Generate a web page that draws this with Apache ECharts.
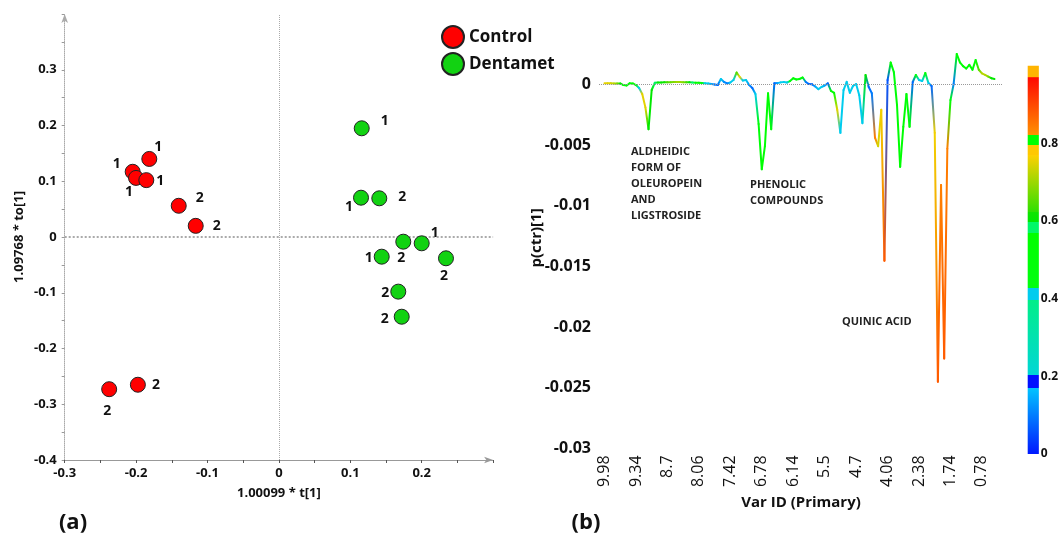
<!DOCTYPE html>
<html>
<head>
<meta charset="utf-8">
<title>Score plot and loadings</title>
<script src="https://cdn.jsdelivr.net/npm/echarts@6/dist/echarts.min.js"></script>
<style>
  html, body { margin: 0; padding: 0; background: #fff; }
  #chart { width: 1061px; height: 538px; }
</style>
</head>
<body>
<div id="chart"></div>
<script>
// ==================== 数据 ====================

// (a) score plot, t[1] vs to[1]
const controlX = [-0.1815, -0.2048, -0.2001, -0.1857, -0.1403, -0.1165, -0.2377, -0.1975];
const controlY = [0.140, 0.117, 0.106, 0.102, 0.056, 0.020, -0.273, -0.265];
const controlTag = ['1', '1', '1', '1', '2', '2', '2', '2'];

const dentametX = [0.116, 0.115, 0.1406, 0.1742, 0.200, 0.144, 0.234, 0.1672, 0.172];
const dentametY = [0.195, 0.0705, 0.0694, -0.0084, -0.0113, -0.0353, -0.0382, -0.098, -0.143];
const dentametTag = ['1', '1', '2', '2', '1', '1', '2', '2', '2'];

// where each number sits next to its point (px)
const controlTagOffset = [[9, -12], [-16, -8], [-7, 14], [14, 1], [21, -8], [21, 0], [-2, 22], [18, 0]];
const dentametTagOffset = [[23, -7], [-12, 9], [23, -1], [-2, 16], [13, -10], [-13, 1], [-2, 18], [-13, 1], [-17, 2]];

// (b) loadings p(ctr)[1] per variable, coloured by p(corr)
const varIdLabels = ['9.98', '9.34', '8.7', '8.06', '7.42', '6.78', '6.14', '5.5', '4.7', '4.06', '2.38', '1.74', '0.78'];

const loadings = [
  0.00008, 0.00008, 0.00008, 0.00007, 0.00007, 0.00007, -0.00006, -0.0001, 0.00008, 0.00007,
  -0.00006, -0.0003, -0.0008, -0.0019, -0.0037, -0.00047, 0.00013, 0.00015, 0.00015, 0.00016,
  0.00016, 0.00017, 0.00019, 0.00019, 0.00019, 0.00017, 0.00016, 0.00016, 0.00015, 0.00013,
  0.00012, 0.0001, 0.00009, 0.00007, 0.00002, -0.00002, -0.00006, 0.00044, 0.00019, 0.00007,
  0.00015, 0.00035, 0.00097, 0.0006, 0.00031, 0.00035, -0.00006, -0.0003, -0.0008, -0.00327,
  -0.0070, -0.0051, -0.00074, -0.0037, 0.00008, 0.0001, 0.00016, 0.00019, 0.00015, 0.00027,
  0.0005, 0.0004, 0.00044, 0.00056, 0.00019, 0.00002, 0, -0.00018, -0.0004, -0.00022,
  -0.0001, 0.00008, -0.00055, -0.0007, -0.0021, -0.004, -0.00047, 0.0002, -0.0007, -0.00014,
  0.00002, -0.0009, -0.0032, 0.00077, -0.00022, -0.00074, -0.0044, -0.0051, -0.0021, -0.01453,
  0.00035, 0.0018, 0.001, -0.0017, -0.0068, -0.0035, -0.0008, -0.0035, 0.00019, 0.00077,
  0.00035, 0.00027, 0.00093, 0.0001, -0.00014, -0.004, -0.0245, -0.0083, -0.0226, -0.0053,
  -0.0013, 0.00002, 0.0025, 0.0018, 0.0015, 0.0013, 0.0016, 0.0012, 0.002, 0.0012,
  0.0009, 0.00077, 0.00064, 0.0005, 0.00044
];

const corrValues = [
  0.75, 0.75, 0.74, 0.72, 0.68, 0.6, 0.52, 0.5, 0.55, 0.55,
  0.45, 0.4, 0.75, 0.75, 0.6, 0.6, 0.58, 0.6, 0.6, 0.62,
  0.64, 0.66, 0.68, 0.7, 0.7, 0.68, 0.64, 0.6, 0.58, 0.56,
  0.55, 0.5, 0.4, 0.4, 0.14, 0.1, 0.08, 0.4, 0.12, 0.1,
  0.4, 0.4, 0.65, 0.76, 0.4, 0.4, 0.12, 0.08, 0.4, 0.5,
  0.55, 0.55, 0.55, 0.5, 0.08, 0.14, 0.4, 0.4, 0.4, 0.45,
  0.55, 0.52, 0.5, 0.55, 0.1, 0.08, 0.08, 0.14, 0.4, 0.4,
  0.14, 0.08, 0.55, 0.55, 0.75, 0.4, 0.4, 0.4, 0.4, 0.4,
  0.4, 0.4, 0.4, 0.6, 0.08, 0.1, 0.84, 0.74, 0.76, 0.88,
  0.06, 0.55, 0.45, 0.55, 0.55, 0.55, 0.5, 0.55, 0.08, 0.45,
  0.4, 0.4, 0.55, 0.4, 0.08, 0.76, 0.88, 0.84, 0.88, 0.84,
  0.5, 0.1, 0.55, 0.55, 0.55, 0.55, 0.55, 0.55, 0.55, 0.65,
  0.72, 0.72, 0.68, 0.6, 0.6
];

// colour scale of p(corr), as drawn on the bar at the right
const colorBarStops = [
  [0, '#0018ff'], [0.17, '#00c4ff'], [0.17, '#0010ff'], [0.203, '#0010ff'],
  [0.203, '#00d6d6'], [0.397, '#00ee88'], [0.397, '#00ccee'], [0.427, '#00ccee'],
  [0.427, '#00ff10'], [0.568, '#00ff00'], [0.568, '#00f868'], [0.598, '#00f868'],
  [0.598, '#00e800'], [0.624, '#10e400'], [0.624, '#30e000'], [0.77, '#ffd000'],
  [0.77, '#ffc800'], [0.796, '#ffc800'], [0.796, '#00ff00'], [0.822, '#00ff00'],
  [0.822, '#ff9000'], [0.968, '#ff0a00'], [0.972, '#ff6000'], [0.972, '#ffb400'],
  [1, '#ffb400']
];
const colorBarTicks = [0, 0.2, 0.4, 0.6, 0.8];

// ==================== 工具函数 ====================

function hexToRgb(h) {
  return [parseInt(h.slice(1, 3), 16), parseInt(h.slice(3, 5), 16), parseInt(h.slice(5, 7), 16)];
}

// 取色：按色标线性插值
function colorAt(v) {
  for (let k = 0; k < colorBarStops.length - 1; k++) {
    const [v0, c0] = colorBarStops[k];
    const [v1, c1] = colorBarStops[k + 1];
    if (v1 > v0 && v >= v0 && v <= v1) {
      const t = (v - v0) / (v1 - v0);
      const a = hexToRgb(c0), b = hexToRgb(c1);
      const rgb = a.map((x, j) => Math.round(x + (b[j] - x) * t));
      return `rgb(${rgb.join(',')})`;
    }
  }
  return colorBarStops[colorBarStops.length - 1][1];
}

function fmt(v, digits) {
  return String(+v.toFixed(digits));
}

// ==================== 图表 ====================

const FONT = 'Open Sans';
const N = loadings.length;
const lineData = loadings.map((v, i) => [i, v]);
const barStops = colorBarStops.map(([v, c]) => ({ offset: v, color: c }));

const controlData = controlX.map((x, k) => ({ value: [x, controlY[k]], label: { offset: controlTagOffset[k] } }));
const dentametData = dentametX.map((x, k) => ({ value: [x, dentametY[k]], label: { offset: dentametTagOffset[k] } }));

const tagLabel = (tags) => ({
  show: true,
  position: 'inside',
  formatter: (p) => tags[p.dataIndex],
  fontFamily: FONT,
  fontWeight: 'bold',
  fontSize: 14,
  color: '#111'
});

// 每段折线按两端 p(corr) 渐变着色
function renderSegment(params, api) {
  const i = params.dataIndex;
  if (i >= N - 1) return null;
  const p0 = api.coord([i, loadings[i]]);
  const p1 = api.coord([i + 1, loadings[i + 1]]);
  return {
    type: 'line',
    shape: { x1: p0[0], y1: p0[1], x2: p1[0], y2: p1[1] },
    style: {
      stroke: new echarts.graphic.LinearGradient(p0[0], p0[1], p1[0], p1[1], [
        { offset: 0, color: colorAt(corrValues[i]) },
        { offset: 1, color: colorAt(corrValues[i + 1]) }
      ], true),
      lineWidth: 2,
      lineCap: 'round'
    }
  };
}

const chart = echarts.init(document.getElementById('chart'), null, { renderer: 'canvas' });

const option = {
  animation: false,
  backgroundColor: '#fff',
  textStyle: { fontFamily: FONT },
  grid: [
    { left: 64.7, top: 14, width: 428.4, height: 446 },
    { left: 599, top: 29.7, width: 404, height: 418.7 },
    { left: 1027.7, top: 65.7, width: 15.3, height: 388.3 }
  ],
  legend: {
    data: ['Control', 'Dentamet'],
    left: 441,
    top: 25,
    padding: 0,
    orient: 'vertical',
    icon: 'circle',
    itemWidth: 22,
    itemHeight: 22,
    itemGap: 3,
    textStyle: { fontFamily: FONT, fontSize: 17, fontWeight: 'bold', color: '#111' }
  },
  xAxis: [
    {
      gridIndex: 0,
      type: 'value',
      min: -0.3,
      max: 0.3,
      interval: 0.1,
      name: '1.00099 * t[1]',
      nameLocation: 'middle',
      nameGap: 27,
      nameTextStyle: { fontFamily: FONT, fontWeight: 'bold', fontSize: 13, color: '#111' },
      axisLine: { show: true, onZero: false, symbol: ['none', 'arrow'], symbolSize: [5, 9], lineStyle: { color: '#999', width: 1 } },
      axisTick: { show: true, length: 3, lineStyle: { color: '#555' } },
      minorTick: { show: true, splitNumber: 2, length: 3, lineStyle: { color: '#555' } },
      splitLine: { show: false },
      axisLabel: {
        margin: 7,
        fontFamily: FONT,
        fontWeight: 'bold',
        fontSize: 13,
        color: '#111',
        formatter: (v) => (v > 0.29 ? '' : fmt(v, 1))
      }
    },
    {
      gridIndex: 1,
      type: 'value',
      min: -1.75,
      max: 126.7,
      name: 'Var ID (Primary)',
      nameLocation: 'middle',
      nameGap: 45,
      nameTextStyle: { fontFamily: FONT, fontWeight: 'bold', fontSize: 15, color: '#111' },
      axisLine: { show: false, onZero: false },
      axisTick: { show: false },
      splitLine: { show: false },
      axisLabel: {
        customValues: varIdLabels.map((_, k) => k * 10),
        rotate: 90,
        margin: 7,
        fontFamily: FONT,
        fontSize: 16,
        color: '#111',
        formatter: (v) => varIdLabels[Math.round(v / 10)]
      }
    },
    { gridIndex: 2, type: 'value', min: 0, max: 1, show: false }
  ],
  yAxis: [
    {
      gridIndex: 0,
      type: 'value',
      min: -0.4,
      max: 0.4,
      interval: 0.1,
      name: '1.09768 * to[1]',
      nameLocation: 'middle',
      nameGap: 39,
      nameTextStyle: { fontFamily: FONT, fontWeight: 'bold', fontSize: 13, color: '#111' },
      axisLine: { show: true, onZero: false, symbol: ['none', 'arrow'], symbolSize: [5, 9], lineStyle: { color: '#aaa', type: 'dotted' } },
      axisTick: { show: true, length: 3, lineStyle: { color: '#999' } },
      minorTick: { show: true, splitNumber: 2, length: 3, lineStyle: { color: '#999' } },
      splitLine: { show: false },
      axisLabel: {
        margin: 8,
        fontFamily: FONT,
        fontWeight: 'bold',
        fontSize: 13,
        color: '#111',
        formatter: (v) => (v > 0.39 ? '' : fmt(v, 1))
      }
    },
    {
      gridIndex: 1,
      type: 'value',
      min: -0.03,
      max: 0.0045,
      interval: 0.005,
      axisLine: { show: false, onZero: false },
      axisTick: { show: false },
      splitLine: { show: false },
      axisLabel: {
        margin: 8,
        fontFamily: FONT,
        fontWeight: 'bold',
        fontSize: 16,
        color: '#111',
        formatter: (v) => (v > 0.0001 ? '' : fmt(v, 3))
      }
    },
    {
      gridIndex: 2,
      type: 'value',
      position: 'right',
      min: 0,
      max: 1,
      interval: 0.2,
      axisLine: { show: false },
      axisTick: { show: false },
      splitLine: { show: false },
      axisLabel: {
        margin: 2,
        fontFamily: FONT,
        fontWeight: 'bold',
        fontSize: 12,
        color: '#111',
        formatter: (v) => (colorBarTicks.some((t) => Math.abs(t - v) < 1e-6) ? fmt(v, 1) : '')
      }
    }
  ],
  series: [
    {
      name: 'Control',
      type: 'scatter',
      xAxisIndex: 0,
      yAxisIndex: 0,
      data: controlData,
      symbolSize: 15,
      itemStyle: { color: '#ff0000', borderColor: '#222', borderWidth: 1, opacity: 1 },
      label: tagLabel(controlTag),
      z: 5,
      markLine: {
        silent: true,
        symbol: 'none',
        label: { show: false },
        data: [
          { xAxis: 0, lineStyle: { color: '#aaa', type: 'dotted', width: 1 } },
          { yAxis: 0, lineStyle: { color: '#aaa', type: 'dotted', width: 2 } }
        ]
      }
    },
    {
      name: 'Dentamet',
      type: 'scatter',
      xAxisIndex: 0,
      yAxisIndex: 0,
      data: dentametData,
      symbolSize: 15,
      itemStyle: { color: '#12d212', borderColor: '#222', borderWidth: 1, opacity: 1 },
      label: tagLabel(dentametTag),
      z: 5
    },
    {
      name: 'p(ctr)[1]',
      type: 'custom',
      xAxisIndex: 1,
      yAxisIndex: 1,
      data: lineData,
      encode: { x: 0, y: 1 },
      renderItem: renderSegment,
      z: 3,
      markLine: {
        silent: true,
        symbol: 'none',
        label: { show: false },
        lineStyle: { color: '#999', type: 'dotted', width: 1 },
        data: [{ yAxis: 0 }]
      }
    },
    {
      name: 'p(corr) scale',
      type: 'custom',
      xAxisIndex: 2,
      yAxisIndex: 2,
      data: [[0, 0]],
      silent: true,
      renderItem: (params) => {
        const cs = params.coordSys;
        return {
          type: 'rect',
          shape: { x: cs.x, y: cs.y, width: cs.width, height: cs.height },
          style: { fill: new echarts.graphic.LinearGradient(0, 1, 0, 0, barStops) }
        };
      }
    }
  ],
  graphic: [
    {
      type: 'text', left: 631, top: 144,
      style: {
        text: 'ALDHEIDIC\nFORM OF\nOLEUROPEIN\nAND\nLIGSTROSIDE',
        font: 'bold 11px "Open Sans"', lineHeight: 16, fill: '#222'
      }
    },
    {
      type: 'text', left: 750, top: 177,
      style: { text: 'PHENOLIC\nCOMPOUNDS', font: 'bold 11px "Open Sans"', lineHeight: 16, fill: '#222' }
    },
    {
      type: 'text', left: 842, top: 314,
      style: { text: 'QUINIC ACID', font: 'bold 11px "Open Sans"', lineHeight: 16, fill: '#222' }
    },
    {
      type: 'text', x: 537, y: 238, rotation: Math.PI / 2,
      style: { text: 'p(ctr)[1]', font: 'bold 15px "Open Sans"', fill: '#111', align: 'center', verticalAlign: 'middle' }
    },
    {
      type: 'text', x: 73, y: 523,
      style: { text: '(a)', font: 'bold 22px "Open Sans"', fill: '#111', align: 'center', verticalAlign: 'middle' }
    },
    {
      type: 'text', x: 586, y: 523,
      style: { text: '(b)', font: 'bold 22px "Open Sans"', fill: '#111', align: 'center', verticalAlign: 'middle' }
    }
  ]
};

chart.setOption(option);
</script>
</body>
</html>
